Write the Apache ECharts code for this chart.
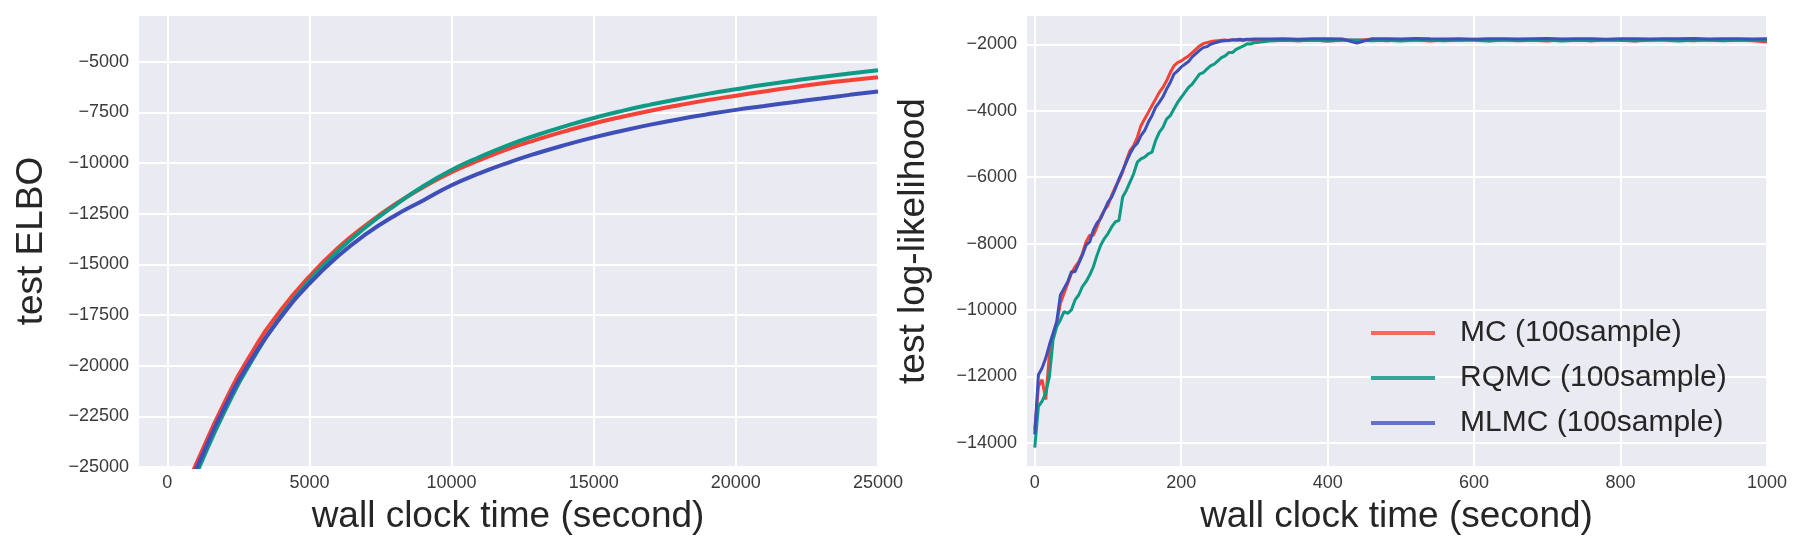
<!DOCTYPE html>
<html>
<head>
<meta charset="utf-8">
<script src="https://cdn.jsdelivr.net/npm/echarts@6/dist/echarts.min.js"></script>
<style>
html, body { margin: 0; padding: 0; background: #fff; }
#main { width: 1803px; height: 555px; }
</style>
</head>
<body>
<div id="main"></div>
<script>
var names = ['MC (100sample)', 'RQMC (100sample)', 'MLMC (100sample)'];

// left panel: test ELBO vs wall clock time
var elboTime = [500, 1000, 2000, 3000, 4000, 5000, 6000, 7000, 8000, 9000, 10000, 11000, 12000,
  13000, 14000, 15000, 16000, 17000, 18000, 19000, 20000, 21000, 22000, 23000, 24000, 25000];
var elboMC = [-26500, -24900, -21850, -19300, -17250, -15600, -14200, -13050, -12050, -11200, -10450,
  -9850, -9300, -8850, -8430, -8050, -7720, -7420, -7150, -6900, -6680, -6470, -6270, -6080, -5920, -5770];
var elboRQMC = [-27000, -25400, -22300, -19700, -17550, -15800, -14350, -13150, -12100, -11150, -10350,
  -9700, -9120, -8620, -8180, -7780, -7430, -7120, -6840, -6590, -6360, -6140, -5940, -5760, -5590, -5430];
var elboMLMC = [-26700, -25150, -22100, -19600, -17600, -15950, -14600, -13500, -12600, -11850, -11100,
  -10500, -9980, -9520, -9110, -8740, -8410, -8110, -7840, -7600, -7380, -7190, -7000, -6820, -6640, -6470];

// right panel: test log-likelihood vs wall clock time
var llTime = [0, 5, 10, 15, 20, 25, 30, 35, 40, 45, 50, 55, 60, 65, 70, 75, 80, 85, 90, 95,
  100, 105, 110, 115, 120, 125, 130, 135, 140, 145, 150, 155, 160, 165, 170, 175, 180, 185, 190, 195,
  200, 205, 210, 215, 220, 225, 230, 235, 240, 245, 250, 255, 260, 265, 270, 275, 280, 285, 290, 295, 300,
  320, 340, 360, 380, 400, 420, 440, 460, 480, 500, 520, 540, 560, 580, 600, 620, 640, 660, 680,
  700, 720, 740, 760, 780, 800, 820, 840, 860, 880, 900, 920, 940, 960, 980, 1000];
var llMC = [-13600, -12300, -12100, -12700, -11300, -10800, -10400, -9800, -9500, -9200,
  -8900, -8700, -8550, -8300, -7950, -7750, -7750, -7500, -7200, -7000,
  -6850, -6550, -6300, -6100, -5850, -5500, -5200, -5050, -4800, -4450,
  -4250, -4050, -3850, -3650, -3450, -3300, -3100, -2850, -2650, -2550,
  -2500, -2420, -2350, -2250, -2150, -2050, -1980, -1950, -1920, -1900,
  -1890, -1880, -1870, -1890, -1860, -1880, -1870, -1890, -1860, -1880, -1870,
  -1880, -1860, -1890, -1870, -1900, -1860, -1880, -1850, -1890, -1870,
  -1860, -1900, -1870, -1880, -1850, -1890, -1870, -1860, -1880, -1900,
  -1860, -1870, -1890, -1860, -1880, -1900, -1870, -1850, -1880, -1890,
  -1860, -1880, -1870, -1890, -1930];
var llRQMC = [-14150, -12900, -12750, -12500, -12000, -10900, -10500, -10300, -10050, -10100,
  -10000, -9700, -9550, -9300, -9150, -8950, -8700, -8350, -8050, -7850,
  -7700, -7500, -7350, -7300, -6600, -6400, -6150, -5900, -5550, -5450,
  -5400, -5300, -5250, -4900, -4650, -4500, -4250, -4150, -3950, -3750,
  -3600, -3450, -3300, -3200, -3050, -2900, -2850, -2750, -2650, -2600,
  -2500, -2400, -2350, -2250, -2250, -2150, -2100, -2050, -1980, -1990, -1950,
  -1900, -1880, -1890, -1870, -1900, -1880, -1870, -1890, -1880, -1900,
  -1870, -1880, -1890, -1870, -1880, -1900, -1870, -1890, -1880, -1870,
  -1900, -1880, -1890, -1870, -1880, -1890, -1870, -1880, -1900, -1870,
  -1880, -1890, -1880, -1870, -1890];
var llMLMC = [-13750, -11950, -11750, -11450, -11050, -10700, -10350, -9550, -9350, -9150,
  -8850, -8850, -8600, -8350, -8050, -7950, -7600, -7380, -7250, -7000,
  -6750, -6600, -6350, -6050, -5800, -5550, -5300, -5100, -4980, -4750,
  -4600, -4350, -4150, -3900, -3750, -3580, -3350, -3150, -2900, -2800,
  -2680, -2600, -2520, -2380, -2280, -2180, -2100, -2070, -2000, -1960,
  -1930, -1900, -1890, -1880, -1870, -1860, -1850, -1860, -1845, -1850, -1840,
  -1840, -1830, -1845, -1835, -1830, -1840, -1960, -1835, -1830, -1840,
  -1825, -1835, -1840, -1830, -1845, -1830, -1835, -1840, -1830, -1825,
  -1840, -1835, -1830, -1845, -1830, -1835, -1840, -1830, -1835, -1825,
  -1840, -1830, -1835, -1840, -1830];

var lineColors = ['#F44336', '#0F9A85', '#3F4FB8'];
var legendColors = ['#F26A62', '#33A898', '#6572C6'];

var font = 'Liberation Sans, Arial, sans-serif';

function pairs(xs, ys) {
  return xs.map(function (x, i) { return [x, ys[i]]; });
}
function minus(v) {
  return String(v).replace('-', '\u2212');
}

function xAxisFor(gridIndex, min, max) {
  return {
    type: 'value',
    gridIndex: gridIndex,
    min: min,
    max: max,
    splitNumber: 5,
    name: 'wall clock time (second)',
    nameLocation: 'middle',
    nameGap: 31,
    nameTextStyle: { fontSize: 37, color: '#262626', fontFamily: font },
    axisLine: { show: false },
    axisTick: { show: false },
    axisLabel: { showMinLabel: false, margin: 7, fontSize: 18, color: '#3a3a3a', fontFamily: font, formatter: minus },
    splitLine: { lineStyle: { color: '#ffffff', width: 2 } }
  };
}

function yAxisFor(gridIndex, opts) {
  var ax = {
    type: 'value',
    gridIndex: gridIndex,
    name: opts.name,
    nameLocation: 'middle',
    nameGap: opts.nameGap,
    nameTextStyle: { fontSize: 37, color: '#262626', fontFamily: font },
    axisLine: { show: false },
    axisTick: { show: false },
    axisLabel: { showMinLabel: opts.showMin, showMaxLabel: false, margin: 9, fontSize: 18, color: '#3a3a3a', fontFamily: font, formatter: minus },
    splitLine: { lineStyle: { color: '#ffffff', width: 2 } }
  };
  for (var k in opts.extra) ax[k] = opts.extra[k];
  return ax;
}

function lineSeries(i, xIdx, xs, ys, width, smooth) {
  return {
    name: names[i],
    type: 'line',
    xAxisIndex: xIdx,
    yAxisIndex: xIdx,
    data: pairs(xs, ys),
    showSymbol: false,
    symbol: 'none',
    smooth: smooth,
    clip: true,
    color: lineColors[i],
    lineStyle: { color: lineColors[i], width: width },
    animation: false
  };
}

var chart = echarts.init(document.getElementById('main'));
chart.setOption({
  backgroundColor: '#ffffff',
  animation: false,
  textStyle: { fontFamily: font },
  grid: [
    { left: 138, right: 925, top: 15, bottom: 88, show: true, backgroundColor: '#EAEAF2', borderWidth: 0 },
    { left: 1026, right: 36, top: 15, bottom: 88, show: true, backgroundColor: '#EAEAF2', borderWidth: 0 }
  ],
  legend: {
    orient: 'vertical',
    left: 1371,
    top: 318,
    padding: 0,
    itemWidth: 64,
    itemHeight: 4,
    itemGap: 15,
    icon: 'rect',
    textStyle: { fontSize: 30, lineHeight: 30, color: '#262626', fontFamily: font, padding: [0, 0, 0, 20] },
    data: names.map(function (n, i) {
      return { name: n, itemStyle: { color: legendColors[i] } };
    })
  },
  xAxis: [
    xAxisFor(0, -1030, 25000),
    xAxisFor(1, -12, 1000)
  ],
  yAxis: [
    yAxisFor(0, { name: 'test ELBO', nameGap: 88, showMin: true,
      extra: { min: -25000, max: -2700, interval: 2500 } }),
    yAxisFor(1, { name: 'test log-likelihood', nameGap: 94, showMin: false,
      extra: { min: -14730, max: -1117, splitNumber: 7 } })
  ],
  series: [
    lineSeries(0, 0, elboTime, elboMC, 4, true),
    lineSeries(1, 0, elboTime, elboRQMC, 4, true),
    lineSeries(2, 0, elboTime, elboMLMC, 4, true),
    lineSeries(0, 1, llTime, llMC, 3, false),
    lineSeries(1, 1, llTime, llRQMC, 3, false),
    lineSeries(2, 1, llTime, llMLMC, 3, false)
  ]
});
</script>
</body>
</html>
